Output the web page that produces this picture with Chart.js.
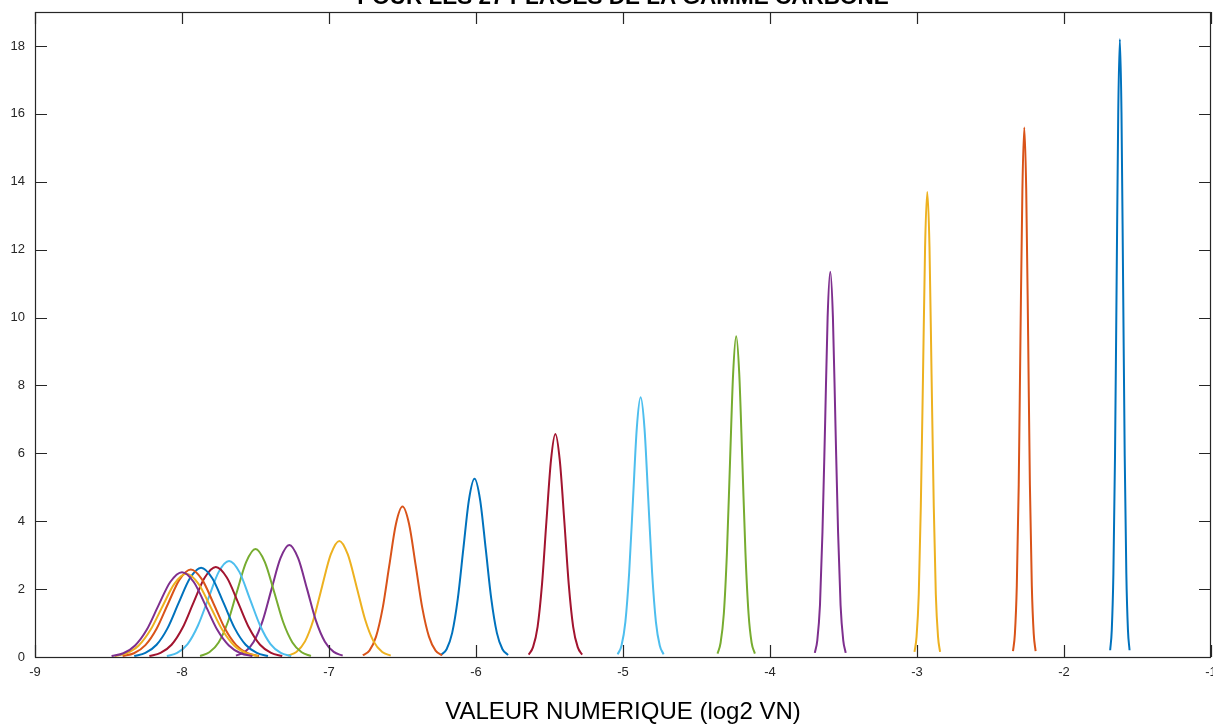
<!DOCTYPE html>
<html lang="fr">
<head>
<meta charset="utf-8">
<title>Plages de la gamme carbone</title>
<script src="https://cdn.jsdelivr.net/npm/chart.js@4"></script>
<style>
  html, body { margin: 0; padding: 0; background: #fff; overflow: hidden; }
  canvas { display: block; }
</style>
</head>
<body>
<canvas id="plages" width="1213" height="726"></canvas>
<script>
const titre = 'POUR LES 27 PLAGES DE LA GAMME CARBONE';
const titreX = 'VALEUR NUMERIQUE (log2 VN)';
const xTicks = [-9, -8, -7, -6, -5, -4, -3, -2, -1];
const yTicks = [0, 2, 4, 6, 8, 10, 12, 14, 16, 18];
const couleurs = ['#0072BD', '#D95319', '#EDB120', '#7E2F8E', '#77AC30', '#4DBEEE', '#A2142F'];

// densités [log2 VN, densité], de la plage la plus haute (à droite) vers la plus basse
const plage01 = [[-1.686,0.20],[-1.675,0.80],[-1.664,2.46],[-1.653,5.92],[-1.642,11.05],[-1.631,16.05],[-1.620,18.20],[-1.609,16.05],[-1.598,11.05],[-1.587,5.92],[-1.576,2.46],[-1.565,0.80],[-1.554,0.20]];
const plage02 = [[-2.347,0.17],[-2.334,0.69],[-2.321,2.11],[-2.308,5.07],[-2.296,9.47],[-2.283,13.76],[-2.270,15.60],[-2.257,13.76],[-2.244,9.47],[-2.232,5.07],[-2.219,2.11],[-2.206,0.69],[-2.193,0.17]];
const plage03 = [[-3.017,0.15],[-3.003,0.60],[-2.988,1.85],[-2.974,4.45],[-2.959,8.32],[-2.945,12.08],[-2.930,13.70],[-2.915,12.08],[-2.901,8.32],[-2.886,4.45],[-2.872,1.85],[-2.857,0.60],[-2.843,0.15]];
const plage04 = [[-3.695,0.12],[-3.678,0.50],[-3.660,1.53],[-3.643,3.69],[-3.625,6.89],[-3.608,10.01],[-3.590,11.35],[-3.572,10.01],[-3.555,6.89],[-3.537,3.69],[-3.520,1.53],[-3.502,0.50],[-3.485,0.12]];
const plage05 = [[-4.357,0.10],[-4.336,0.42],[-4.314,1.28],[-4.293,3.07],[-4.272,5.74],[-4.251,8.33],[-4.230,9.45],[-4.209,8.33],[-4.188,5.74],[-4.167,3.07],[-4.146,1.28],[-4.125,0.42],[-4.103,0.10]];
const plage06 = [[-5.036,0.08],[-5.010,0.34],[-4.984,1.03],[-4.958,2.49],[-4.932,4.64],[-4.906,6.75],[-4.880,7.65],[-4.854,6.75],[-4.828,4.64],[-4.802,2.49],[-4.776,1.03],[-4.750,0.34],[-4.724,0.08]];
const plage07 = [[-5.642,0.07],[-5.612,0.29],[-5.581,0.89],[-5.551,2.14],[-5.521,3.99],[-5.490,5.79],[-5.460,6.57],[-5.430,5.79],[-5.399,3.99],[-5.369,2.14],[-5.339,0.89],[-5.308,0.29],[-5.278,0.07]];
const plage08 = [[-6.238,0.06],[-6.200,0.23],[-6.162,0.71],[-6.124,1.71],[-6.086,3.19],[-6.048,4.63],[-6.010,5.25],[-5.972,4.63],[-5.934,3.19],[-5.896,1.71],[-5.858,0.71],[-5.820,0.23],[-5.782,0.06]];
const plage09 = [[-6.770,0.05],[-6.725,0.19],[-6.680,0.60],[-6.635,1.44],[-6.590,2.69],[-6.545,3.91],[-6.500,4.43],[-6.455,3.91],[-6.410,2.69],[-6.365,1.44],[-6.320,0.60],[-6.275,0.19],[-6.230,0.05]];
const plage10 = [[-7.280,0.04],[-7.222,0.15],[-7.163,0.46],[-7.105,1.11],[-7.047,2.08],[-6.988,3.02],[-6.930,3.42],[-6.872,3.02],[-6.813,2.08],[-6.755,1.11],[-6.697,0.46],[-6.638,0.15],[-6.580,0.04]];
const plage11 = [[-7.633,0.04],[-7.572,0.15],[-7.512,0.45],[-7.451,1.07],[-7.391,2.00],[-7.330,2.91],[-7.270,3.30],[-7.210,2.91],[-7.149,2.00],[-7.089,1.07],[-7.028,0.45],[-6.968,0.15],[-6.907,0.04]];
const plage12 = [[-7.877,0.03],[-7.814,0.14],[-7.751,0.43],[-7.688,1.03],[-7.626,1.93],[-7.563,2.80],[-7.500,3.18],[-7.437,2.80],[-7.374,1.93],[-7.312,1.03],[-7.249,0.43],[-7.186,0.14],[-7.123,0.03]];
const plage13 = [[-8.103,0.03],[-8.033,0.12],[-7.962,0.38],[-7.892,0.92],[-7.821,1.72],[-7.751,2.50],[-7.680,2.83],[-7.609,2.50],[-7.539,1.72],[-7.468,0.92],[-7.398,0.38],[-7.328,0.12],[-7.257,0.03]];
const plage14 = [[-8.222,0.03],[-8.146,0.12],[-8.071,0.36],[-7.996,0.86],[-7.921,1.61],[-7.845,2.34],[-7.770,2.65],[-7.695,2.34],[-7.619,1.61],[-7.544,0.86],[-7.469,0.36],[-7.394,0.12],[-7.318,0.03]];
const plage15 = [[-8.325,0.03],[-8.249,0.12],[-8.173,0.36],[-8.098,0.85],[-8.022,1.60],[-7.946,2.32],[-7.870,2.63],[-7.794,2.32],[-7.718,1.60],[-7.642,0.85],[-7.567,0.36],[-7.491,0.12],[-7.415,0.03]];
const plage16 = [[-8.404,0.03],[-8.327,0.11],[-8.249,0.35],[-8.172,0.84],[-8.095,1.57],[-8.017,2.28],[-7.940,2.58],[-7.863,2.28],[-7.785,1.57],[-7.708,0.84],[-7.631,0.35],[-7.554,0.11],[-7.476,0.03]];
const plage17 = [[-8.458,0.03],[-8.377,0.11],[-8.296,0.33],[-8.214,0.80],[-8.133,1.49],[-8.051,2.16],[-7.970,2.45],[-7.889,2.16],[-7.807,1.49],[-7.726,0.80],[-7.644,0.33],[-7.563,0.11],[-7.482,0.03]];
const plage18 = [[-8.479,0.03],[-8.399,0.11],[-8.319,0.34],[-8.239,0.81],[-8.160,1.52],[-8.080,2.21],[-8.000,2.50],[-7.920,2.21],[-7.840,1.52],[-7.761,0.81],[-7.681,0.34],[-7.601,0.11],[-7.521,0.03]];

const plages = [plage01, plage02, plage03, plage04, plage05, plage06, plage07, plage08, plage09,
  plage10, plage11, plage12, plage13, plage14, plage15, plage16, plage17, plage18];

const police = '"Liberation Sans", Arial, Helvetica, sans-serif';
const encre = '#262626';

// chaque plage prend la couleur suivante du cycle ; les dernières passent au-dessus
const datasets = plages.map((p, i) => ({
  label: 'plage ' + (i + 1),
  data: p.map(([x, y]) => ({ x, y })),
  borderColor: couleurs[i % couleurs.length],
  borderWidth: 2,
  pointRadius: 0,
  fill: false,
  cubicInterpolationMode: 'monotone'
})).reverse();

// cadre fermé avec graduations vers l'intérieur sur les quatre côtés, plus le titre
const cadre = {
  id: 'cadre',
  afterDatasetsDraw(chart) {
    const { ctx, chartArea: a, scales: { x, y } } = chart;
    const t = 12;
    ctx.save();
    ctx.strokeStyle = encre;
    ctx.lineWidth = 1.2;
    ctx.beginPath();
    xTicks.forEach(v => {
      const px = Math.round(x.getPixelForValue(v)) + 0.5;
      ctx.moveTo(px, a.bottom); ctx.lineTo(px, a.bottom - t);
      ctx.moveTo(px, a.top); ctx.lineTo(px, a.top + t);
    });
    yTicks.forEach(v => {
      const py = Math.round(y.getPixelForValue(v)) + 0.5;
      ctx.moveTo(a.left, py); ctx.lineTo(a.left + t, py);
      ctx.moveTo(a.right, py); ctx.lineTo(a.right - t, py);
    });
    ctx.stroke();
    ctx.strokeRect(a.left + 0.5, a.top + 0.5, a.right - a.left - 1, a.bottom - a.top);

    ctx.fillStyle = '#000';
    ctx.font = 'bold 22.5px ' + police;
    ctx.textAlign = 'center';
    ctx.textBaseline = 'alphabetic';
    ctx.fillText(titre, (a.left + a.right) / 2, 4);
    ctx.restore();
  }
};

new Chart(document.getElementById('plages'), {
  type: 'line',
  data: { datasets },
  plugins: [cadre],
  options: {
    responsive: false,
    animation: false,
    layout: { autoPadding: false, padding: { top: 12, right: 2, left: 0, bottom: 0 } },
    plugins: { legend: { display: false }, tooltip: { enabled: false } },
    scales: {
      x: {
        type: 'linear',
        min: -9,
        max: -1,
        afterBuildTicks: s => { s.ticks = xTicks.map(v => ({ value: v })); },
        afterFit: s => { s.height = 69; s.paddingLeft = 0; s.paddingRight = 0; },
        grid: { display: false, drawTicks: false },
        border: { display: false },
        ticks: {
          padding: 8, autoSkip: false, maxRotation: 0, color: encre,
          font: { family: police, size: 13 },
          callback: v => String(v)
        },
        title: {
          display: true, text: titreX, color: '#000',
          font: { family: police, size: 24, lineHeight: 1.1 },
          padding: { top: 0, bottom: 0 }
        }
      },
      y: {
        min: 0,
        max: 19,
        afterBuildTicks: s => { s.ticks = yTicks.map(v => ({ value: v })); },
        afterFit: s => { s.width = 35; s.paddingTop = 0; s.paddingBottom = 0; },
        grid: { display: false, drawTicks: false },
        border: { display: false },
        ticks: {
          padding: 10, color: encre,
          font: { family: police, size: 13 },
          callback: v => String(v)
        }
      }
    }
  }
});
</script>
</body>
</html>
